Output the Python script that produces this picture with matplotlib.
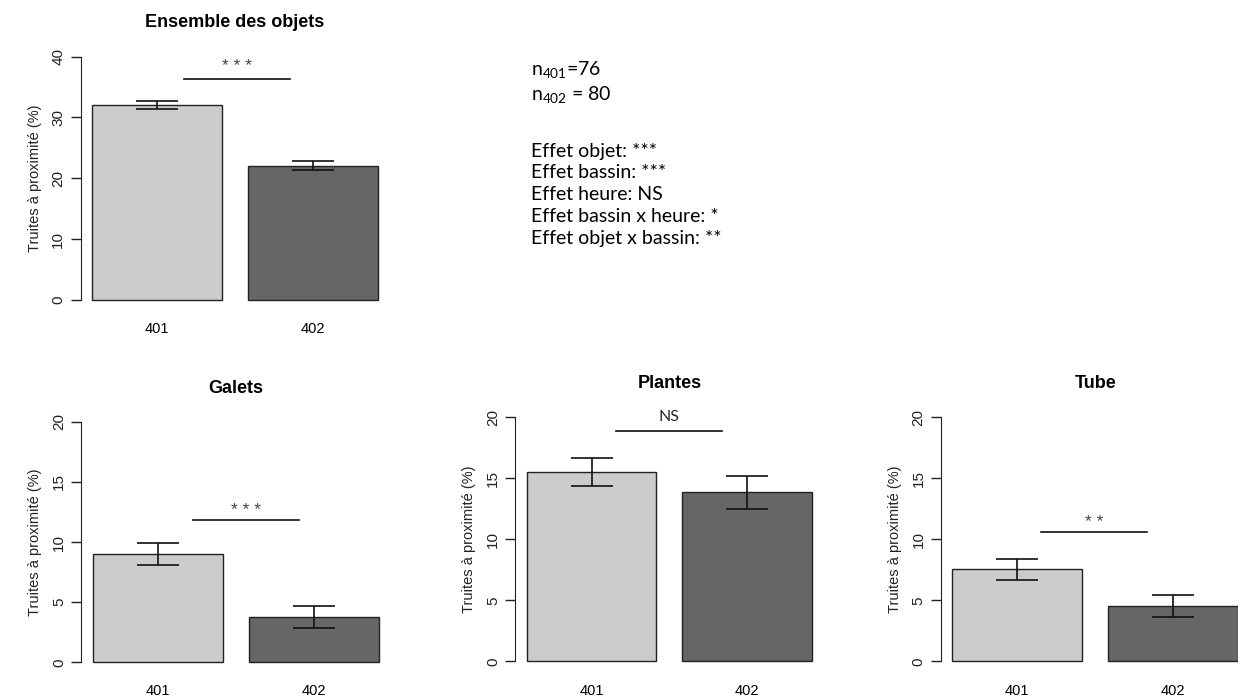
import matplotlib.pyplot as plt

plt.rcParams['font.family'] = ['Liberation Sans', 'DejaVu Sans']

# Données (pourcentage de truites à proximité, moyenne +/- erreur standard)
bassins = ['401', '402']
titres = ['Ensemble des objets', 'Galets', 'Plantes', 'Tube']
moyennes = [[32.0, 22.1], [9.0, 3.75], [15.5, 13.85], [7.55, 4.55]]
erreurs = [[0.65, 0.7], [0.9, 0.9], [1.15, 1.35], [0.87, 0.9]]
ymax = [40, 20, 20, 20]
signif = ['* * *', '* * *', 'NS', '* *']
# hauteur de la barre de significativité, de son texte et étendue en x
signif_y = [36.4, 11.85, 18.9, 10.6]
signif_txt_y = [38.4, 12.6, 20.0, 11.4]
signif_x = [[0.91, 1.72], [0.97, 1.79], [0.89, 1.71], [0.885, 1.70]]

texte_n = [r'n$_{\mathregular{401}}$=76', r'n$_{\mathregular{402}}$ = 80']
texte_effets = ['Effet objet: ***', 'Effet bassin: ***', 'Effet heure: NS',
                'Effet bassin x heure: *', 'Effet objet x bassin: **']

couleurs = ['#cccccc', '#666666']
centres = [0.7, 1.9]

fig = plt.figure(figsize=(12.38, 6.96), dpi=100)
positions = [[0.0651, 0.555, 0.2494, 0.3776],
             [0.0657, 0.0346, 0.2494, 0.3733],
             [0.4162, 0.0358, 0.2489, 0.3787],
             [0.760, 0.0358, 0.2494, 0.3787]]

for i in range(4):
    ax = fig.add_axes(positions[i])
    ax.bar(centres, moyennes[i], width=1.0, color=couleurs, edgecolor='#222222', linewidth=1.0)
    ax.errorbar(centres, moyennes[i], yerr=erreurs[i], fmt='none', ecolor='#111111',
                elinewidth=1.2, capsize=15, capthick=1.2)
    ax.plot(signif_x[i], [signif_y[i], signif_y[i]], color='#111111', lw=1.2)
    if signif[i] == 'NS':
        ax.text(sum(signif_x[i]) / 2, signif_txt_y[i], signif[i], ha='center', va='center',
                fontsize=11.5, color='#222222', family=['Lato', 'DejaVu Sans'])
    else:
        ax.text(sum(signif_x[i]) / 2, signif_txt_y[i], signif[i], ha='center', va='center',
                fontsize=12.5, color='#404050')
    ax.set_xlim(0.112, 2.488)
    ax.set_ylim(-0.04 * ymax[i], 1.04 * ymax[i])
    ax.set_yticks(range(0, ymax[i] + 1, ymax[i] // 4))
    ax.set_xticks(centres)
    ax.set_xticklabels(bassins, fontsize=10.5)
    ax.tick_params(axis='x', length=0, pad=9)
    ax.tick_params(axis='y', length=7, width=1, pad=4, labelsize=11, colors='#222222')
    for lab in ax.get_yticklabels():
        lab.set_rotation(90)
        lab.set_va('center')
    for s in ['top', 'right', 'bottom']:
        ax.spines[s].set_visible(False)
    ax.spines['left'].set_bounds(0, ymax[i])
    ax.spines['left'].set_color('#222222')
    ax.set_ylabel('Truites à proximité (%)', fontsize=10.5, labelpad=7, color='#222222')
    ax.set_title(titres[i], fontsize=13, fontweight='bold', pad=14)

# Bloc de texte en haut à droite
plt.rcParams['mathtext.fontset'] = 'custom'
plt.rcParams['mathtext.rm'] = 'Lato'
fig.text(531 / 1238, 1 - 70 / 696, texte_n[0], fontsize=14, va='center', family='Lato')
fig.text(531 / 1238, 1 - 95 / 696, texte_n[1], fontsize=14, va='center', family='Lato')
for k, t in enumerate(texte_effets):
    fig.text(531 / 1238, 1 - (151 + k * 21.8) / 696, t, fontsize=14, va='center', family='Lato')

plt.savefig('out.png', dpi=100)
